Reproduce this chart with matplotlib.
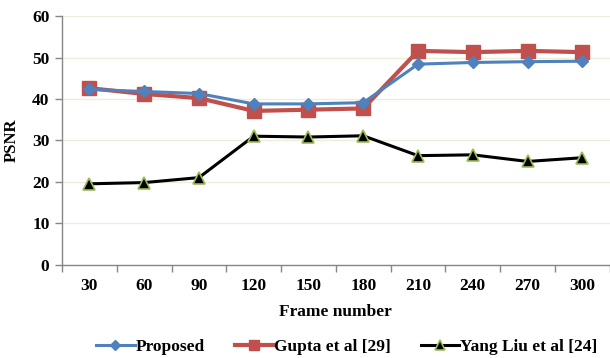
import matplotlib
matplotlib.use("Agg")
import matplotlib.pyplot as plt
import numpy as np

frames = ["30", "60", "90", "120", "150", "180", "210", "240", "270", "300"]
proposed = [42.3, 41.8, 41.3, 38.8, 38.8, 39.1, 48.4, 48.8, 49.0, 49.1]
gupta = [42.6, 41.2, 40.2, 37.1, 37.4, 37.7, 51.6, 51.3, 51.6, 51.3]
yang = [19.5, 19.8, 21.0, 31.0, 30.8, 31.1, 26.3, 26.5, 24.9, 25.8]
yticks = [0, 10, 20, 30, 40, 50, 60]

plt.rcParams['font.family'] = ['Liberation Serif', 'DejaVu Serif']
plt.rcParams['font.weight'] = 'bold'

fig = plt.figure(figsize=(6.10, 3.58), dpi=100)
ax = fig.add_axes([0.1016, 0.261, 0.898, 0.694])

x = np.arange(len(frames))
ax.plot(x, proposed, color='#4F81BD', lw=2.2, marker='D', ms=6.5,
        mfc='#4F81BD', mec='#4F81BD', label='Proposed', zorder=4)
ax.plot(x, gupta, color='#C0504D', lw=3.0, marker='s', ms=10,
        mfc='#C0504D', mec='#C0504D', label='Gupta et al [29]', zorder=3)
ax.plot(x, yang, color='black', lw=2.2, marker='^', ms=9,
        mfc='black', mec='#9BBB59', mew=1.2, label='Yang Liu et al [24]', zorder=3)

ax.set_xlim(-0.5, len(frames) - 0.5)
ax.set_ylim(0, 60)
ax.set_yticks(yticks)
ax.set_xticks(x)
ax.set_xticklabels(frames)
ax.set_xticks(np.arange(-0.5, len(frames) + 0.5, 1), minor=True)
ax.tick_params(axis='x', which='major', length=0, pad=10, labelsize=12.5)
ax.tick_params(axis='x', which='minor', length=5, color='#868686', width=1, direction='out')
ax.tick_params(axis='y', length=5, color='#868686', width=1, labelsize=12.5, pad=4)

ax.grid(axis='y', color='#EDEDDA', lw=1)
ax.set_axisbelow(True)
for s in ['top', 'right']:
    ax.spines[s].set_visible(False)
for s in ['left', 'bottom']:
    ax.spines[s].set_color('#868686')
    ax.spines[s].set_linewidth(1)

ax.set_xlabel('Frame number', fontsize=12.5, fontweight='bold', labelpad=7)
ax.set_ylabel('PSNR', fontsize=12, fontweight='bold', labelpad=9)

fig.legend(loc='center left', bbox_to_anchor=(0.158, 0.031), ncol=3, frameon=False,
           prop={'size': 12.5, 'weight': 'bold'}, handlelength=2.2,
           handletextpad=0.05, columnspacing=1.75, markerscale=0.75,
           borderaxespad=0, borderpad=0)

fig.savefig('out.png', dpi=100)
